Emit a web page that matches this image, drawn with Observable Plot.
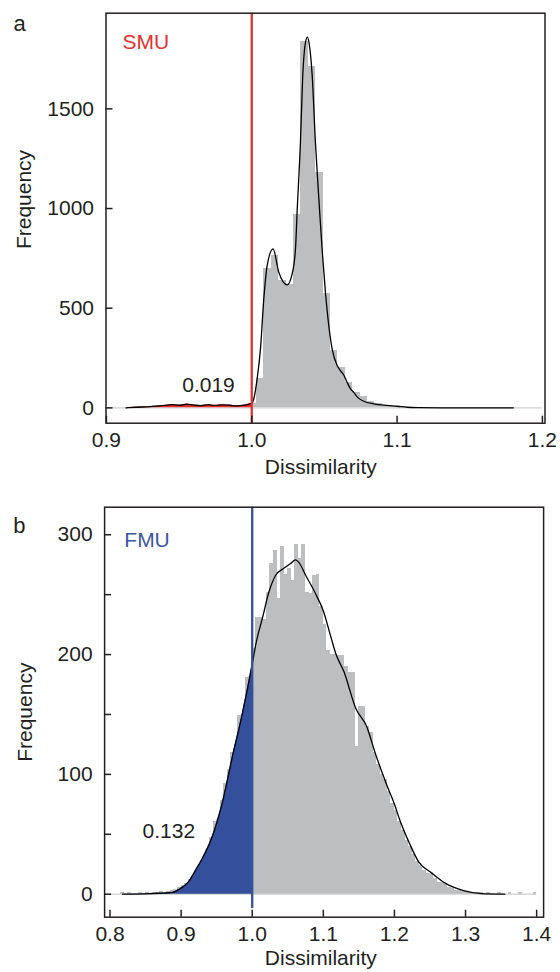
<!DOCTYPE html>
<html>
<head>
<meta charset="utf-8">
<script src="https://cdn.jsdelivr.net/npm/d3@7"></script>
<script src="https://cdn.jsdelivr.net/npm/@observablehq/plot@0.6"></script>
<style>
  html, body { margin: 0; padding: 0; background: #fff; }
  #chart { width: 560px; }
  #chart svg { display: block; }
</style>
</head>
<body>
<div id="chart"></div>
<script>
// ---------- Panel a (SMU) ----------
const aGroup = "SMU";
const aShare = "0.019";
const aThreshold = 1.0;
const aXTicks = [0.9, 1.0, 1.1, 1.2];
const aYTicks = [0, 500, 1000, 1500];
const aXDomain = [0.8997, 1.2018];
const aYDomain = [-77, 1980];
const aBaseline = [0.9, 1.2];
const aBinStart = 0.9114;
const aBinWidth = 0.0051;
const aCounts = [
  2, 4, 6, 9, 11, 14, 12, 13, 14, 11, 13, 12, 10, 12, 10, 11, 12, 22,
  145, 700, 765, 640, 620, 968, 1836, 1714, 1180, 572, 287, 200, 128, 75,
  58, 32, 20, 13, 9, 6, 4, 3, 2, 2, 1, 1, 1, 1, 0, 1, 0, 1, 0, 1
];
const aCurveX = [0.9135, 0.92, 0.93, 0.94, 0.945, 0.95, 0.955, 0.96, 0.965, 0.97, 0.975, 0.98, 0.985, 0.99, 0.995, 1.0,
  1.0014, 1.0037, 1.006, 1.0083, 1.0106, 1.0147, 1.0186, 1.0244, 1.0278, 1.0301, 1.0312, 1.0335, 1.0351, 1.037, 1.0383,
  1.0397, 1.0416, 1.0438, 1.0466, 1.0484, 1.0507, 1.053, 1.0553, 1.0588, 1.061, 1.0633, 1.0655, 1.068, 1.0702, 1.0725,
  1.0771, 1.084, 1.0932, 1.1, 1.107, 1.115, 1.13, 1.18];
const aCurveY = [0, 3, 6, 12, 16, 13, 18, 14, 11, 16, 12, 15, 13, 10, 14, 22,
  45, 145, 296, 547, 714, 798, 680, 617, 672, 798, 981, 1333, 1667, 1834, 1860,
  1818, 1667, 1333, 1000, 798, 580, 413, 296, 212, 187, 165, 130, 95, 78, 55,
  33, 20, 12, 8, 3, 1, 0, 0];

// ---------- Panel b (FMU) ----------
const bGroup = "FMU";
const bShare = "0.132";
const bThreshold = 1.0;
const bXTicks = [0.8, 0.9, 1.0, 1.1, 1.2, 1.3, 1.4];
const bYTicks = [0, 50, 100, 150, 200, 250, 300];
const bYLabels = [0, 100, 200, 300];
const bXDomain = [0.7924, 1.4098];
const bYDomain = [-19.2, 323];
const bBaseline = [0.8, 1.4];
const bLineBottom = -12;
const bBinStart = 0.815;
const bBinWidth = 0.005;
const bCounts = [
  1, 0, 1, 0, 0, 1, 0, 1, 0, 1,
  1, 2, 1, 2, 3, 4, 6, 7, 9, 12,
  15, 20, 24, 30, 37, 47, 61, 62, 78, 92,
  104, 118, 125, 149, 150, 181, 182, 205, 231, 231,
  229, 252, 276, 287, 247, 290, 267, 272, 262, 292,
  280, 292, 252, 251, 266, 267, 240, 225, 203, 200,
  200, 199, 199, 190, 185, 185, 123, 157, 157, 140,
  135, 118, 108, 100, 96, 86, 76, 70, 61, 53,
  45, 40, 33, 27, 24, 20, 17, 17, 13, 10,
  10, 8, 6, 5, 3, 3, 2, 2, 1, 1,
  1, 1, 0, 1, 0, 0, 1, 0, 0, 1,
  0, 0, 1, 0, 0, 0, 1
];
const bCurveX = [0.8176, 0.85, 0.87, 0.888, 0.8985, 0.91, 0.9203, 0.93, 0.9437, 0.9578, 0.9718, 0.9859, 1.0,
  1.0052, 1.0146, 1.0234, 1.0328, 1.0445, 1.054, 1.061, 1.0656, 1.0753, 1.089, 1.1003, 1.1105, 1.118, 1.1288,
  1.1457, 1.161, 1.1734, 1.1887, 1.2013, 1.2063, 1.2215, 1.2341, 1.2518, 1.2719, 1.2972, 1.3225, 1.3553];
const bCurveY = [0, 0.3, 0.8, 1.5, 4.5, 10, 20, 30, 48, 76, 114, 150, 192,
  209, 231, 252, 266, 272, 276, 279, 277, 266, 251, 236, 215, 200, 186,
  155, 140, 117, 92, 73, 64, 42, 27, 18, 9, 3, 0.5, 0];

// ---------- styling ----------
const ink = "#231f20";
const barGray = "#bdbec0";
const baseGray = "#cfcfcf";
const red = "#e4312b";
const blue = "#34509c";
const blueText = "#3b57a8";
const font = "'Liberation Sans', Arial, Helvetica, sans-serif";
const tickLen = 7;

function label(value, opts) {
  return Plot.text([value], {text: d => d, lineAnchor: "middle", textAnchor: "middle", fill: ink, fontSize: 21, ...opts});
}

function makePanel(o) {
  const bins = o.counts.map((c, i) => ({x1: o.binStart + i * o.binWidth, x2: o.binStart + (i + 1) * o.binWidth, y: c}));
  const curve = o.curveX.map((x, i) => ({x, y: o.curveY[i]}));
  const left = curve.filter(d => d.x <= o.threshold);
  const frameW = 560 - o.ml - o.mr;
  const frameH = o.height - o.mt - o.mb;
  return Plot.plot({
    width: 560,
    height: o.height,
    marginLeft: o.ml, marginRight: o.mr, marginTop: o.mt, marginBottom: o.mb,
    style: {fontFamily: font, fontSize: "21px", color: ink, background: "white", overflow: "visible"},
    x: {domain: o.xDomain},
    y: {domain: o.yDomain},
    marks: [
      Plot.rect(bins, {x1: "x1", x2: "x2", y1: 0, y2: "y", fill: barGray, shapeRendering: "crispEdges"}),
      Plot.ruleY([0], {x1: o.baseline[0], x2: o.baseline[1], stroke: baseGray, strokeWidth: 1.3}),
      Plot.area(left, {x1: "x", y1: 0, y2: "y", fill: o.color, curve: "monotone-x"}),
      Plot.line(curve, {x: "x", y: "y", stroke: "#000", strokeWidth: 1.3, curve: "monotone-x"}),
      Plot.ruleX([o.threshold], {y1: o.lineBottom, y2: o.yDomain[1], stroke: o.color, strokeWidth: 2.3}),
      Plot.frame({stroke: ink, strokeWidth: 1.5}),
      // inward ticks
      Plot.tickY(o.yTicks, {y: d => d, insetRight: frameW - tickLen, stroke: ink, strokeWidth: 1.5}),
      Plot.tickX(o.xTicks, {x: d => d, insetTop: frameH - tickLen, stroke: ink, strokeWidth: 1.5}),
      // tick labels
      Plot.axisY({ticks: o.yLabels, tickSize: 0, tickPadding: 12, tickFormat: d3.format("d"), label: null, fill: ink, fontSize: 21}),
      Plot.axisX({ticks: o.xTicks, tickSize: 0, tickPadding: 9, tickFormat: d3.format(".1f"), label: null, fill: ink, fontSize: 21}),
      // annotations
      label(o.group, {frameAnchor: "top-left", dx: o.groupDx, dy: o.groupDy, textAnchor: "start", fill: o.textColor}),
      label(o.share, {frameAnchor: "bottom-left", dx: o.shareDx, dy: o.shareDy}),
      label(o.panel, {frameAnchor: "top-left", dx: o.panelDx, dy: o.panelDy, fontSize: 22}),
      label("Frequency", {frameAnchor: "left", dx: o.freqDx, dy: o.freqDy, rotate: -90}),
      label("Dissimilarity", {frameAnchor: "bottom", dx: o.disDx, dy: o.disDy})
    ]
  });
}

const chart = document.getElementById("chart");
chart.appendChild(makePanel({
  panel: "a", group: aGroup, share: aShare, threshold: aThreshold,
  counts: aCounts, binStart: aBinStart, binWidth: aBinWidth,
  curveX: aCurveX, curveY: aCurveY,
  xDomain: aXDomain, yDomain: aYDomain, xTicks: aXTicks, yTicks: aYTicks, yLabels: aYTicks,
  baseline: aBaseline, lineBottom: aYDomain[0],
  color: red, textColor: red,
  height: 486, ml: 105.5, mr: 15.5, mt: 12.7, mb: 63.3,
  groupDx: 16.5, groupDy: 29, shareDx: 102.5, shareDy: -37.7,
  panelDx: -86.5, panelDy: 10.6, freqDx: -81.5, freqDy: -18.7, disDx: -4.7, disDy: 44
}));
chart.appendChild(makePanel({
  panel: "b", group: bGroup, share: bShare, threshold: bThreshold,
  counts: bCounts, binStart: bBinStart, binWidth: bBinWidth,
  curveX: bCurveX, curveY: bCurveY,
  xDomain: bXDomain, yDomain: bYDomain, xTicks: bXTicks, yTicks: bYTicks, yLabels: bYLabels,
  baseline: bBaseline, lineBottom: bLineBottom,
  color: blue, textColor: blueText,
  height: 486, ml: 104.1, mr: 16.9, mt: 20.7, mb: 55.3,
  groupDx: 19.7, groupDy: 32.6, shareDx: 64.2, shareDy: -85.9,
  panelDx: -85.3, panelDy: 19, freqDx: -79, freqDy: 0, disDx: -3.3, disDy: 41
}));
</script>
</body>
</html>
